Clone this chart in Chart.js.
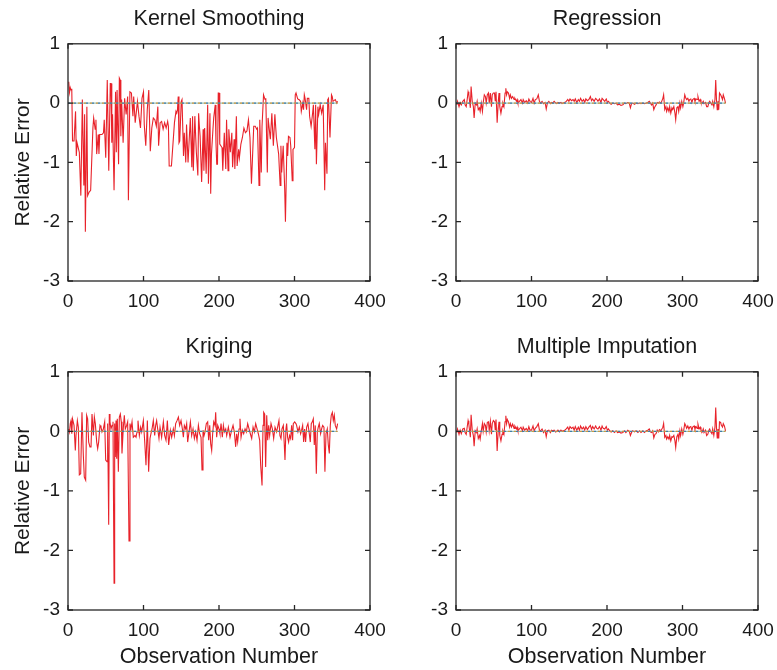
<!DOCTYPE html>
<html>
<head>
<meta charset="utf-8">
<script src="https://cdn.jsdelivr.net/npm/chart.js@4/dist/chart.umd.min.js"></script>
<style>
html,body{margin:0;padding:0;background:#fff;overflow:hidden;}
body{width:777px;height:670px;position:relative;}
canvas{position:absolute;}
</style>
</head>
<body>
<canvas id="p1" width="438" height="330" style="left:0px;top:0px"></canvas>
<canvas id="p2" width="438" height="330" style="left:388px;top:0px"></canvas>
<canvas id="p3" width="438" height="342" style="left:0px;top:328px"></canvas>
<canvas id="p4" width="438" height="342" style="left:388px;top:328px"></canvas>
<script>
// ---- data: [observation number, relative error] ----
const panelTitles = ['Kernel Smoothing', 'Regression', 'Kriging', 'Multiple Imputation'];
const xTickValues = [0, 100, 200, 300, 400];
const yTickValues = [-3, -2, -1, 0, 1];
const xAxisTitle = 'Observation Number';
const yAxisTitle = 'Relative Error';

const ksData = [[1,0.36],[2,0.18],[3,0.26],[4,0.22],[5,0.24],[6,-0.64],[8,-0.64],[10,-0.14],[11,-0.89],[12,-0.67],[15,-0.83],[17,-1.56],[19,0.06],[21,-1.39],[22,-0.19],[23,-2.17],[25,-0.06],[26,-1.56],[28,-1.5],[30,-1.47],[33,-0.42],[34,-0.25],[36,-0.44],[37,-0.28],[38,-0.86],[40,-0.53],[41,-0.86],[42,-0.53],[45,-0.53],[47,-0.5],[48,-0.28],[50,-0.92],[52,0.39],[54,-1.14],[56,0.33],[57,0.33],[58,-0.67],[59,-0.19],[61,-1.47],[63,0.19],[64,-0.83],[65,0.22],[67,-1.03],[68,0.42],[69,0.39],[70,-0.56],[71,0.06],[73,-0.67],[75,0.08],[77,-0.19],[79,0.11],[80,-1.64],[82,0.19],[84,0.17],[86,-0.22],[87,0.11],[89,-0.33],[92,0.03],[94,-0.22],[96,-0.42],[98,0.08],[100,0.19],[101,-0.36],[103,-0.72],[105,-0.11],[107,0.22],[109,-0.81],[111,-0.42],[113,-0.25],[115,-0.28],[117,-0.39],[119,-0.06],[120,-0.72],[122,-0.33],[124,-0.31],[126,-0.44],[128,-0.33],[130,-0.42],[132,-0.31],[133,-0.39],[134,-1.06],[137,-1.06],[141,-0.33],[143,-0.14],[144,-0.17],[145,-0.11],[146,0.11],[147,-0.67],[148,-0.64],[150,0.03],[151,0.06],[153,-0.89],[154,-0.5],[156,-1.0],[157,-0.36],[159,-1.0],[162,-0.25],[163,-0.67],[164,-1.08],[165,-0.22],[166,-1.14],[168,-0.22],[170,-0.83],[172,-1.22],[173,-0.17],[174,-0.39],[175,-0.56],[177,-1.33],[179,-0.44],[180,-1.14],[181,-0.42],[183,-1.19],[185,-0.03],[186,-1.36],[188,-0.17],[189,-1.53],[190,-0.86],[192,-0.44],[193,-0.25],[195,-0.03],[196,-0.67],[197,-1.03],[198,-1.03],[199,0.17],[200,0.17],[201,-0.69],[204,-0.75],[205,-1.14],[207,-0.5],[209,-1.11],[210,-0.28],[212,-1.14],[213,-0.44],[215,-0.83],[217,-0.5],[218,-1.08],[220,-0.61],[221,-1.11],[223,-0.22],[224,-1.06],[226,-0.78],[227,-0.92],[229,-0.69],[231,-0.58],[233,-0.42],[235,-0.5],[237,-0.47],[239,-0.28],[241,-0.58],[243,-1.36],[246,-0.39],[248,-0.39],[250,-0.44],[251,-0.42],[253,-1.39],[254,-0.28],[256,-1.17],[257,-0.39],[259,0.14],[261,0.06],[262,0.08],[264,-1.17],[265,-0.25],[268,-0.61],[270,-0.17],[272,-0.72],[274,-0.19],[276,-0.58],[279,-0.86],[281,-1.39],[282,-0.72],[283,-1.17],[285,-0.72],[287,-1.44],[288,-2.0],[290,-0.67],[291,-0.89],[292,-0.56],[294,-0.58],[295,-0.72],[297,-1.31],[298,-0.78],[300,-0.75],[301,0.14],[302,0.17],[304,0.08],[305,0.06],[306,0.06],[308,0.03],[309,-0.14],[311,0.0],[312,-0.11],[313,0.14],[314,0.08],[316,-0.11],[317,0.08],[319,0.08],[320,-0.22],[322,-0.39],[324,-0.17],[325,-0.03],[327,-0.78],[328,-0.03],[329,-1.03],[331,-0.06],[332,-0.19],[334,-0.03],[336,-0.17],[338,-0.03],[340,-1.47],[341,-0.67],[343,-1.19],[344,0.06],[345,0.08],[347,-0.58],[349,0.14],[350,0.11],[351,0.03],[354,0.06],[356,0.0],[357,0.03]];

const regData = [[1,-0.03],[2,0.03],[4,-0.06],[5.5,0.01],[7,-0.03],[9,0.03],[11,0.06],[12,-0.03],[13.5,-0.06],[15,0.08],[16,0.19],[17,0.14],[19,-0.08],[20,0.28],[21.5,0.03],[23,-0.06],[24,-0.25],[25.5,0.0],[27,-0.03],[28,0.03],[29.5,-0.11],[31,-0.08],[32,-0.14],[33.5,0.0],[35,-0.14],[36,0.0],[37.5,0.14],[39,0.11],[40,0.0],[41.5,0.14],[43,0.17],[44,0.0],[45.5,0.17],[47,-0.06],[48,0.14],[49.5,0.17],[51,0.17],[52,0.03],[53,0.19],[54.5,-0.33],[56,0.03],[57,0.17],[58,-0.06],[59.5,-0.17],[61,-0.06],[62,0.0],[63.5,-0.06],[65,0.17],[66,0.25],[67,0.14],[68,0.19],[69.5,0.17],[71,0.08],[72,0.14],[73.5,0.08],[75,0.11],[77,0.06],[78,0.08],[80,0.03],[81,0.06],[82,0.0],[84,0.03],[86,0.06],[88,0.0],[89,0.06],[91,0.01],[93,0.04],[95,0.0],[96.5,0.07],[98,0.03],[100,0.01],[102,0.08],[103.5,0.0],[105,0.06],[107,0.07],[109,0.14],[110.5,0.03],[112,0.0],[114,0.03],[116,-0.01],[118,0.01],[119.5,-0.1],[121,0.0],[123,0.03],[125,-0.01],[126.5,0.01],[128,0.0],[130,0.03],[132,0.0],[133.5,-0.01],[135,0.01],[137,0.0],[139,0.01],[140.5,-0.01],[142,0.0],[144,0.01],[146,0.03],[148,0.06],[149.5,0.03],[151,0.07],[153,0.04],[155,0.06],[156.5,0.03],[158,0.07],[160,0.01],[162,0.06],[163.5,0.03],[165,0.08],[167,0.03],[169,0.06],[170.5,0.01],[172,0.07],[174,0.04],[176,0.06],[178,0.11],[179.5,0.04],[181,0.07],[183,0.03],[185,0.08],[186.5,0.06],[188,0.03],[190,0.07],[192,0.01],[193.5,0.08],[195,0.06],[197,0.03],[199,0.07],[200.5,0.01],[202,0.03],[203.5,0.0],[205.5,-0.02],[207.5,0.0],[210,-0.01],[212,0.0],[214,-0.03],[216.5,-0.02],[218.5,-0.04],[221,-0.03],[223,0.0],[225,-0.01],[227.5,0.01],[229.5,0.0],[231,-0.08],[232.5,-0.01],[234,0.0],[236.5,-0.02],[238.5,0.0],[241,-0.01],[243,0.0],[245,-0.01],[247.5,0.0],[249.5,-0.01],[252,0.0],[254,0.01],[256,0.03],[257.5,0.0],[259,-0.03],[260.5,0.0],[262,-0.11],[263.5,-0.06],[265,-0.03],[266.5,0.01],[268,0.0],[269.5,0.02],[271.5,0.0],[274,0.08],[275,0.14],[276.5,-0.11],[278,-0.06],[279,-0.14],[280.5,-0.08],[282,-0.14],[283,-0.06],[284.5,-0.17],[286,-0.08],[287,-0.11],[288.5,-0.06],[290,-0.17],[291,-0.28],[292.5,-0.08],[294,-0.06],[295,-0.14],[296.5,0.0],[297.5,-0.08],[299,0.03],[300.5,-0.06],[301.5,0.0],[303,0.14],[304.5,0.08],[305.5,0.06],[307,0.08],[308.5,0.03],[309.5,0.06],[311,0.07],[312.5,0.01],[313.5,0.06],[315.5,0.08],[316.5,0.03],[318,0.07],[319.5,0.06],[320.5,0.11],[322,0.03],[323.5,0.06],[324.5,0.01],[326,0.0],[327.5,0.03],[328.5,-0.01],[330.5,0.01],[332,-0.06],[333.5,-0.06],[335,0.01],[336,0.03],[337.5,0.0],[339,-0.03],[340,0.03],[341.5,-0.06],[343,0.06],[344,0.39],[345,0.06],[346,-0.11],[347,0.03],[348,-0.11],[349,0.17],[350.5,0.14],[351.5,0.11],[353,0.06],[354,0.14],[355.5,0.08],[357,0.0]];

const krData = [[1,0.04],[2,-0.01],[3,0.13],[4,0.18],[5,-0.04],[6,0.21],[8,0.1],[9.7,-0.32],[10.6,-0.07],[12.4,0.18],[13.7,0.07],[15,-0.73],[16.8,-0.71],[18.5,0.32],[20.3,-0.4],[21.6,-0.77],[23.4,-0.82],[24.7,0.27],[26,0.21],[27.4,-0.18],[29.1,-0.26],[30.5,-0.26],[31.8,0.29],[33.6,-0.07],[34.9,0.24],[36.2,0.13],[38,-0.18],[39.3,-0.29],[40.6,-0.18],[42.4,0.1],[43.7,0.07],[45,-0.01],[46.8,0.04],[48.6,0.16],[49.9,-0.48],[51.7,-0.51],[52.5,0.13],[53.9,-1.57],[54.7,0.29],[55.6,0.16],[56.9,0.04],[58.3,0.1],[59.6,0.16],[61,-2.55],[61.8,0.13],[62.7,-0.43],[63.6,0.18],[64.5,-0.46],[65.3,0.21],[66.7,-0.68],[68,0.24],[69.3,0.29],[70.6,0.16],[71.5,-0.37],[73.3,0.07],[74.6,0.27],[75.9,0.04],[77.7,0.1],[79,0.16],[80.8,-1.84],[82.1,0.13],[83.4,0.04],[84.8,0.16],[86.5,-0.1],[88.7,-0.07],[90.1,-0.1],[91.4,-0.01],[92.7,0.18],[94.5,-0.07],[96.2,0.07],[97.6,-0.01],[99.8,0.18],[101.5,-0.15],[103.3,-0.57],[105.1,0.18],[106.8,-0.68],[108.6,-0.12],[109.9,-0.04],[111.3,0.04],[113,0.18],[114.8,-0.07],[116.1,0.1],[117.4,0.18],[118.8,0.04],[120.5,-0.12],[121.9,0.07],[124,-0.1],[126.3,0.16],[128,-0.07],[129.8,-0.15],[131.6,0.18],[133.3,-0.23],[135.6,0.02],[137.3,-0.1],[139.5,0.04],[140.9,-0.07],[142.6,0.13],[144.4,0.18],[146.2,0.24],[147.9,0.1],[149.7,0.18],[151.5,0.04],[152.8,-0.1],[154.1,0.1],[155.9,0.04],[157.2,0.13],[158.5,-0.18],[160.3,-0.01],[162.1,0.16],[163.8,-0.07],[165.6,0.04],[167.4,-0.12],[169.1,-0.01],[170.9,-0.15],[172.7,0.1],[174.4,-0.04],[176.2,-0.1],[177.5,-0.65],[178.8,0.02],[180.2,-0.07],[181.5,-0.01],[183.2,0.13],[185,0.16],[186.3,-0.15],[187.7,0.1],[189,-0.21],[190.3,-0.32],[191.6,-0.04],[193,0.16],[194.7,0.1],[195.6,0.32],[196.9,-0.1],[198.3,0.1],[200,0.04],[201.3,-0.04],[202.7,0.13],[204.4,-0.1],[205.8,0.1],[207.1,-0.01],[208.9,0.04],[210.2,-0.07],[212.4,0.07],[214.6,-0.1],[216.8,0.02],[218.6,0.1],[220.3,-0.01],[222.1,-0.26],[223.4,-0.04],[224.7,-0.18],[226.5,0.04],[227.8,0.21],[229.2,-0.1],[230.9,0.02],[232.7,-0.04],[234.5,0.04],[236.2,-0.01],[238,0.13],[239.8,0.04],[241.5,-0.04],[243.3,-0.12],[245.1,0.07],[246.8,-0.01],[248.6,0.13],[250.4,0.04],[252.1,-0.04],[253.9,-0.15],[255.2,-0.57],[257,-0.91],[258.3,0.1],[259.2,0.32],[260.5,0.29],[261.8,-0.6],[263.2,0.27],[264.5,-0.15],[265.8,0.1],[267.1,-0.07],[268.9,0.13],[270.7,0.04],[272.4,-0.12],[274.2,0.07],[276.3,-0.01],[278.1,0.1],[279.4,0.18],[280.7,-0.07],[282.1,-0.12],[283.4,0.04],[285.2,0.1],[286.5,-0.23],[287.4,-0.48],[288.7,0.04],[289.6,0.13],[290.9,-0.1],[292.2,-0.18],[293.5,-0.07],[294.9,-0.12],[296.2,0.1],[297.5,-0.15],[298.4,0.13],[300.2,0.16],[301.9,0.13],[302.8,0.1],[304.6,-0.01],[306.4,0.07],[308.1,-0.04],[309.4,0.02],[310.8,0.1],[312.1,-0.18],[313.4,0.04],[314.7,-0.18],[316.1,0.07],[317.8,0.13],[319.6,-0.04],[320.9,-0.18],[322.2,0.13],[323.6,0.16],[324.9,0.21],[326.2,-0.23],[327.5,0.1],[328.9,-0.71],[330.2,-0.01],[331.5,0.07],[332.8,0.13],[334.6,-0.04],[335.9,0.04],[337.3,0.1],[339,0.07],[340.3,-0.68],[341.7,-0.04],[343.4,0.04],[344.8,-0.23],[346.1,-0.37],[347.4,0.1],[348.7,0.27],[350.1,0.32],[351.4,0.18],[352.7,0.27],[354,0.1],[355.8,0.04],[357.1,0.13]];

const miData = [[1,-0.02],[2,0.04],[4,-0.05],[5.5,0.02],[7,-0.04],[9,0.04],[11,0.05],[12,-0.02],[13.5,-0.05],[15,0.09],[16,0.18],[17,0.12],[19,-0.1],[20,0.28],[21.5,0.02],[23,-0.07],[24,-0.25],[25.5,0.01],[27,-0.02],[28,0.04],[29.5,-0.12],[31,-0.07],[32,-0.13],[33.5,0.01],[35,0.13],[36,0.0],[37.5,0.13],[39,0.1],[40,-0.01],[41.5,0.15],[43,0.16],[44,0.01],[45.5,0.17],[47,-0.05],[48,0.13],[49.5,0.18],[51,0.16],[52,0.02],[53,0.2],[54.5,-0.33],[56,0.04],[57,0.16],[58,-0.07],[59.5,-0.16],[61,-0.05],[62,0.01],[63.5,-0.05],[65,0.16],[66,0.26],[67,0.13],[68,0.2],[69.5,0.16],[71,0.07],[72,0.13],[73.5,0.07],[75,0.12],[77,0.05],[78,0.09],[80,0.04],[81,0.07],[82,0.01],[84,0.04],[86,0.07],[88,0.01],[89,0.07],[91,0.02],[93,0.05],[95,0.01],[96.5,0.08],[98,0.02],[100,0.02],[102,0.09],[103.5,0.01],[105,0.05],[107,0.08],[109,0.13],[110.5,0.02],[112,0.01],[114,0.04],[116,-0.02],[118,0.02],[119.5,-0.09],[121,0.01],[123,0.02],[125,-0.02],[126.5,0.02],[128,0.01],[130,0.02],[132,-0.01],[133.5,0.0],[135,0.02],[137,-0.01],[139,0.02],[140.5,0.0],[142,0.01],[144,0.02],[146,0.04],[148,0.07],[149.5,0.02],[151,0.08],[153,0.05],[155,0.07],[156.5,0.02],[158,0.08],[160,0.02],[162,0.07],[163.5,0.02],[165,0.09],[167,0.04],[169,0.07],[170.5,0.02],[172,0.08],[174,0.03],[176,0.07],[178,0.1],[179.5,0.03],[181,0.08],[183,0.04],[185,0.09],[186.5,0.05],[188,0.04],[190,0.08],[192,0.02],[193.5,0.09],[195,0.05],[197,0.04],[199,0.08],[200.5,0.02],[202,0.04],[203.5,0.01],[205.5,-0.01],[207.5,0.01],[210,-0.02],[212,0.01],[214,-0.02],[216.5,-0.01],[218.5,-0.03],[221,-0.02],[223,0.01],[225,-0.02],[227.5,0.02],[229.5,0.0],[231,-0.07],[232.5,-0.02],[234,0.01],[236.5,-0.01],[238.5,0.01],[241,-0.02],[243,0.01],[245,-0.02],[247.5,0.01],[249.5,-0.02],[252,0.01],[254,0.02],[256,0.04],[257.5,-0.01],[259,-0.02],[260.5,0.01],[262,-0.11],[263.5,-0.05],[265,-0.04],[266.5,0.02],[268,-0.01],[269.5,0.03],[271.5,0.01],[274,0.07],[275,0.13],[276.5,-0.1],[278,-0.07],[279,-0.13],[280.5,-0.09],[282,-0.13],[283,-0.07],[284.5,-0.16],[286,-0.09],[287,-0.1],[288.5,-0.07],[290,-0.16],[291,-0.27],[292.5,-0.09],[294,-0.05],[295,-0.13],[296.5,0.01],[297.5,-0.07],[299,0.04],[300.5,-0.05],[301.5,0.01],[303,0.13],[304.5,0.09],[305.5,0.05],[307,0.09],[308.5,0.04],[309.5,0.07],[311,0.08],[312.5,0.02],[313.5,0.07],[315.5,0.09],[316.5,0.04],[318,0.08],[319.5,0.05],[320.5,0.12],[322,0.04],[323.5,0.07],[324.5,0.02],[326,-0.01],[327.5,0.04],[328.5,-0.02],[330.5,0.02],[332,-0.07],[333.5,-0.05],[335,0.02],[336,0.04],[337.5,-0.01],[339,-0.04],[340,0.04],[341.5,-0.07],[343,0.07],[344,0.4],[345,0.07],[346,-0.11],[347,0.04],[348,-0.12],[349,0.16],[350.5,0.15],[351.5,0.1],[353,0.07],[354,0.13],[355.5,0.09],[357,0.01]];

// ---- rendering ----
const FONT = "'Liberation Sans', Arial, Helvetica, sans-serif";
const TXT = '#1a1a1a';

const framePlugin = {
  id: 'frame',
  afterDraw(chart) {
    const {ctx, chartArea: a, scales: {x, y}} = chart;
    ctx.save();
    ctx.strokeStyle = '#262626';
    ctx.lineWidth = 1.3;
    ctx.strokeRect(a.left, a.top, a.right - a.left, a.bottom - a.top);
    ctx.beginPath();
    const tl = 5;
    x.ticks.forEach(t => {
      const px = x.getPixelForValue(t.value);
      ctx.moveTo(px, a.bottom); ctx.lineTo(px, a.bottom - tl);
      ctx.moveTo(px, a.top); ctx.lineTo(px, a.top + tl);
    });
    y.ticks.forEach(t => {
      const py = y.getPixelForValue(t.value);
      ctx.moveTo(a.left, py); ctx.lineTo(a.left + tl, py);
      ctx.moveTo(a.right, py); ctx.lineTo(a.right - tl, py);
    });
    ctx.stroke();
    ctx.restore();
  }
};

function makePanel(id, title, points, showY, showX, xHeight) {
  const series = points.map(p => ({x: p[0], y: p[1]}));
  const last = points[points.length - 1][0];
  const zero = [{x: 0, y: 0}, {x: last, y: 0}];
  new Chart(document.getElementById(id), {
    type: 'line',
    data: {
      datasets: [
        {data: zero, borderColor: 'rgba(205,150,60,0.95)', borderWidth: 1.2, borderDash: [2, 4], borderDashOffset: 2, pointRadius: 0},
        {data: zero, borderColor: 'rgba(60,120,170,0.95)', borderWidth: 1.2, borderDash: [2, 4], pointRadius: 0},
        {data: zero, borderColor: 'rgba(120,170,150,0.9)', borderWidth: 1, pointRadius: 0},
        {data: series, borderColor: '#e8222a', borderWidth: 1.1, pointRadius: 0, tension: 0, fill: false}
      ]
    },
    options: {
      responsive: false,
      animation: false,
      events: [],
      layout: {padding: {left: 0, right: 68, top: 0, bottom: 0}},
      plugins: {
        legend: {display: false},
        tooltip: {enabled: false},
        title: {display: true, text: title, fullSize: false, color: TXT,
                font: {family: FONT, size: 21.5, weight: 'normal'}, padding: {top: 6, bottom: 12}}
      },
      scales: {
        x: {
          type: 'linear', min: xTickValues[0], max: xTickValues[xTickValues.length - 1],
          afterBuildTicks: s => { s.ticks = xTickValues.map(v => ({value: v})); },
          ticks: {color: TXT, font: {family: FONT, size: 19}, padding: 9, maxRotation: 0, callback: v => String(v)},
          grid: {display: false, drawTicks: false},
          border: {display: false},
          title: {display: showX, text: xAxisTitle, color: TXT, font: {family: FONT, size: 21.5}, padding: {top: 0, bottom: 0}},
          afterFit: s => { s.height = xHeight; }
        },
        y: {
          type: 'linear', min: yTickValues[0], max: yTickValues[yTickValues.length - 1],
          afterBuildTicks: s => { s.ticks = yTickValues.map(v => ({value: v})); },
          ticks: {color: TXT, font: {family: FONT, size: 19}, padding: 8, callback: v => String(v)},
          grid: {display: false, drawTicks: false},
          border: {display: false},
          title: {display: showY, text: yAxisTitle, color: TXT, font: {family: FONT, size: 21}, padding: {top: 11, bottom: 0}},
          afterFit: s => { s.width = 68; }
        }
      }
    },
    plugins: [framePlugin]
  });
}

makePanel('p1', panelTitles[0], ksData, true, false, 49);
makePanel('p2', panelTitles[1], regData, false, false, 49);
makePanel('p3', panelTitles[2], krData, true, true, 60);
makePanel('p4', panelTitles[3], miData, false, true, 60);
</script>
</body>
</html>
